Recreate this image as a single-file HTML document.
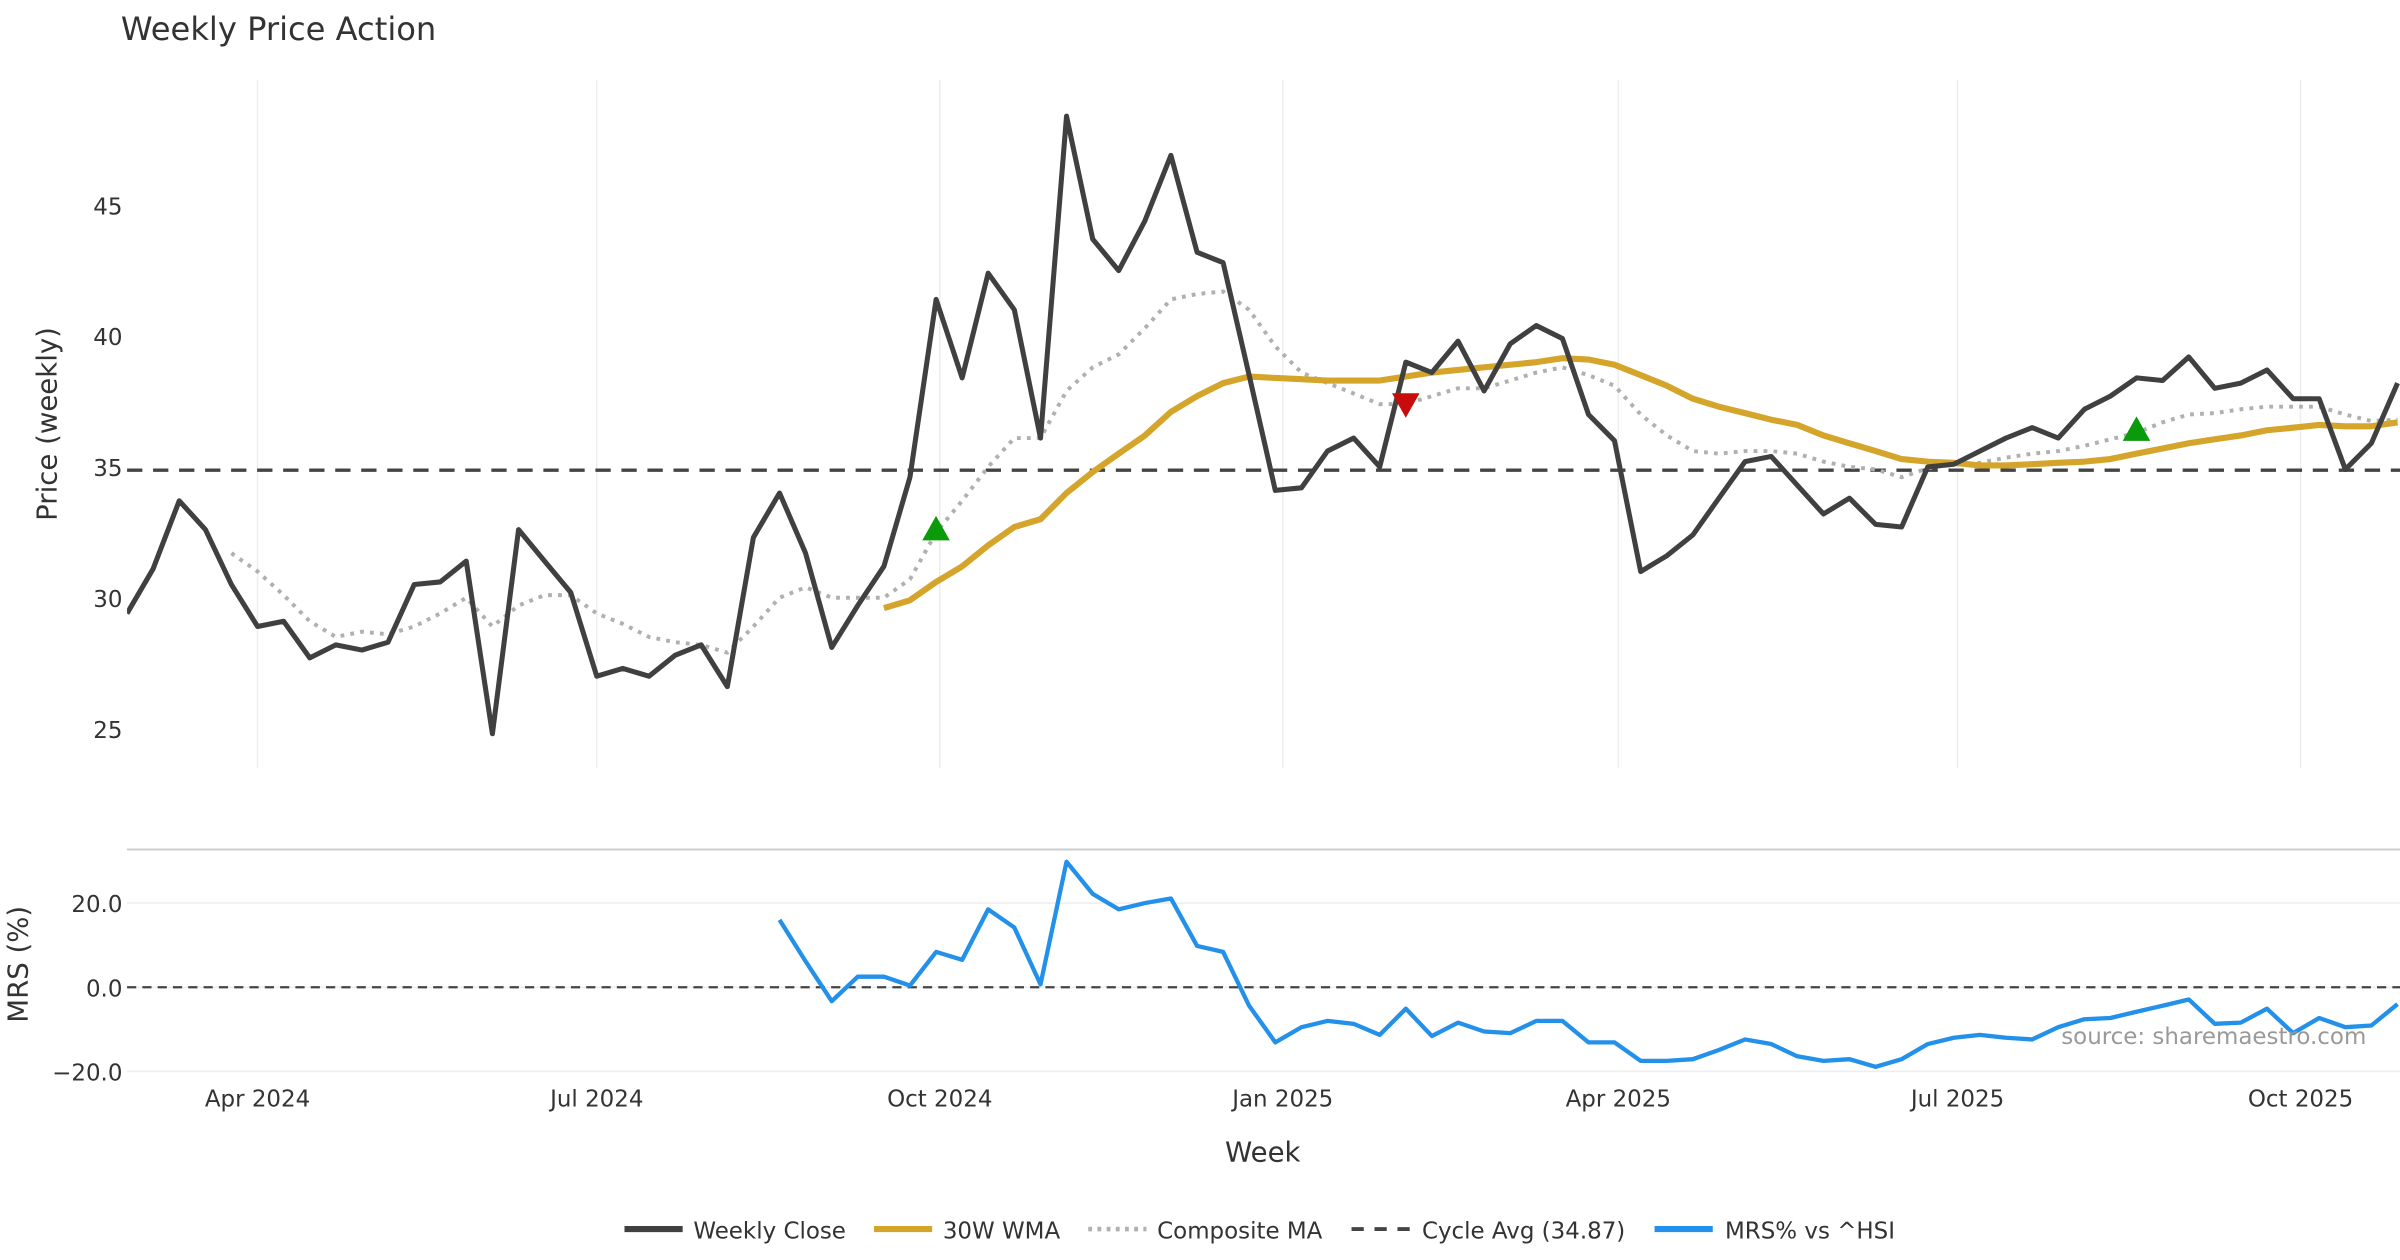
<!DOCTYPE html>
<html><head><meta charset="utf-8"><style>
html,body{margin:0;padding:0;background:#fff;}
svg{display:block;font-family:"DejaVu Sans","Liberation Sans",sans-serif;}
</style></head><body>
<svg id="chart" width="2400" height="1260" viewBox="0 0 1568 823.2" xmlns="http://www.w3.org/2000/svg">
<text x="79" y="26" font-size="21" fill="#333">Weekly Price Action</text>
<g id="grid"></g>
<g id="series"></g>
<g id="axes"></g>
<text transform="translate(37,277) rotate(-90)" text-anchor="middle" font-size="18" fill="#333">Price (weekly)</text>
<text transform="translate(18,630) rotate(-90)" text-anchor="middle" font-size="18" fill="#333">MRS (%)</text>
<text x="825" y="759" text-anchor="middle" font-size="18" fill="#333">Week</text>
<text x="1546" y="682" text-anchor="end" font-size="15" fill="#999">source: sharemaestro.com</text>
<g id="legend"></g>
</svg>
<script>
const startDate = "2024-02-26";
const closeVals = [29.4,31.1,33.7,32.6,30.5,28.9,29.1,27.7,28.2,28.0,28.3,30.5,30.6,31.4,24.8,32.6,31.4,30.2,27.0,27.3,27.0,27.8,28.2,26.6,32.3,34.0,31.7,28.1,29.7,31.2,34.6,41.4,38.4,42.4,41.0,36.1,48.4,43.7,42.5,44.4,46.9,43.2,42.8,38.5,34.1,34.2,35.6,36.1,35.0,39.0,38.6,39.8,37.9,39.7,40.4,39.9,37.0,36.0,31.0,31.6,32.4,33.8,35.2,35.4,34.3,33.2,33.8,32.8,32.7,35.0,35.1,35.6,36.1,36.5,36.1,37.2,37.7,38.4,38.3,39.2,38.0,38.2,38.7,37.6,37.6,34.9,35.9,38.2];
const wmaStart = 29;
const wmaVals = [29.6,29.9,30.6,31.2,32.0,32.7,33.0,34.0,34.8,35.5,36.2,37.1,37.7,38.2,38.45,38.4,38.35,38.3,38.3,38.3,38.45,38.6,38.7,38.8,38.9,39.0,39.15,39.1,38.9,38.5,38.1,37.6,37.3,37.05,36.8,36.6,36.2,35.9,35.6,35.3,35.2,35.15,35.05,35.05,35.1,35.15,35.2,35.3,35.5,35.7,35.9,36.05,36.2,36.4,36.5,36.6,36.55,36.55,36.7];
const compStart = 4;
const compVals = [31.7,31.0,30.1,29.1,28.5,28.7,28.6,28.9,29.4,30.0,28.9,29.7,30.1,30.1,29.4,29.0,28.5,28.3,28.2,27.9,28.9,30.0,30.4,30.0,30.0,30.0,30.7,32.5,33.7,35.0,36.1,36.1,37.9,38.8,39.3,40.3,41.4,41.6,41.7,41.0,39.6,38.6,38.2,37.8,37.4,37.4,37.7,38.0,38.0,38.3,38.6,38.8,38.5,38.1,37.0,36.2,35.6,35.5,35.6,35.6,35.5,35.2,35.0,34.9,34.6,34.95,35.1,35.15,35.35,35.5,35.6,35.8,36.05,36.3,36.7,37.0,37.05,37.2,37.3,37.3,37.3,37.0,36.75,36.8];
const mrsStart = 25;
const mrsVals = [16.0,6.2,-3.3,2.5,2.5,0.4,8.4,6.5,18.5,14.2,0.7,29.8,22.2,18.5,20.0,21.1,9.8,8.4,-4.4,-13.1,-9.5,-8.0,-8.7,-11.3,-5.1,-11.6,-8.4,-10.5,-10.9,-8.0,-8.0,-13.1,-13.1,-17.5,-17.5,-17.1,-14.9,-12.4,-13.5,-16.4,-17.5,-17.1,-18.9,-17.1,-13.5,-12.0,-11.3,-12.0,-12.4,-9.5,-7.6,-7.3,-5.8,-4.4,-2.9,-8.7,-8.4,-5.1,-10.9,-7.3,-9.5,-9.1,-4.0];
const cycleAvg = 34.87;
const buyIdx = [31, 77];
const buyVals = [32.6, 36.4];
const sellIdx = [49];
const sellVals = [37.4];
const priceTicks = [25,30,35,40,45];
const mrsTicks = [-20,0,20];
const mrsTickLabels = ["\u221220.0","0.0","20.0"];
const dateTicks = ["2024-04-01","2024-07-01","2024-10-01","2025-01-01","2025-04-01","2025-07-01","2025-10-01"];
const dateTickLabels = ["Apr 2024","Jul 2024","Oct 2024","Jan 2025","Apr 2025","Jul 2025","Oct 2025"];

const NS="http://www.w3.org/2000/svg";
const t0=Date.parse(startDate+"T00:00:00Z");
function xDate(s){return 83+(Date.parse(s+"T00:00:00Z")-t0)/86400000*17.05/7;}
function xIdx(i){return 83+i*17.05;}
function yP(v){return 305-(v-35)*17.1;}
function yM(v){return 645-v*2.75;}
function mk(tag,attrs,parent){const e=document.createElementNS(NS,tag);for(const k in attrs)e.setAttribute(k,attrs[k]);parent.appendChild(e);return e;}
const grid=document.getElementById('grid'),ser=document.getElementById('series'),ax=document.getElementById('axes'),leg=document.getElementById('legend');
const svg=document.getElementById('chart');
const defs=mk('defs',{},svg);
const cp=mk('clipPath',{id:'clip'},defs);mk('rect',{x:83,y:40,width:1485,height:700},cp);
ser.setAttribute('clip-path','url(#clip)');

dateTicks.forEach((d,k)=>{
  const x=xDate(d);
  const g=mk('line',{x1:x,x2:x,y1:52,y2:502,stroke:'#eeeeee','stroke-width':1},grid);
  
  
  const t=mk('text',{x:x,y:723,'text-anchor':'middle','font-size':15,fill:'#333'},ax);
  t.textContent=dateTickLabels[k];
  
  
});
priceTicks.forEach(v=>{
  const t=mk('text',{x:80,y:yP(v)+6,'text-anchor':'end','font-size':15,fill:'#333'},ax);
  t.textContent=v;
  
  
});
const top2=mk('line',{x1:83,x2:1568,y1:555,y2:555,stroke:'#cccccc','stroke-width':1.3},grid);


mrsTicks.forEach((v,k)=>{
  const g=mk('line',{x1:83,x2:1568,y1:yM(v),y2:yM(v),stroke:'#eeeeee','stroke-width':1},grid);
  
  
  const t=mk('text',{x:80,y:yM(v)+6,'text-anchor':'end','font-size':15,fill:'#333'},ax);
  t.textContent=mrsTickLabels[k];
  
  
});
function poly(vals,start,yf,attrs,name){
  const pts=vals.map((v,i)=>xIdx(i+start).toFixed(1)+','+yf(v).toFixed(1)).join(' ');
  const p=mk('polyline',Object.assign({points:pts,fill:'none','stroke-linejoin':'round'},attrs),ser);
  
  
}
const cy=mk('line',{x1:83,x2:1568,y1:yP(cycleAvg),y2:yP(cycleAvg),stroke:'#444','stroke-width':2.2,'stroke-dasharray':'10,7'},ser);


const z=mk('line',{x1:83,x2:1568,y1:yM(0),y2:yM(0),stroke:'#444','stroke-width':1.4,'stroke-dasharray':'6,4'},ser);


poly(compVals,compStart,yP,{stroke:'#b0b0b0','stroke-width':2.6,'stroke-dasharray':'2.5,4'},'composite-ma-line');
poly(wmaVals,wmaStart,yP,{stroke:'#d4a52a','stroke-width':4},'wma-30w-line');
poly(closeVals,0,yP,{stroke:'#404040','stroke-width':3.3},'weekly-close-line');
poly(mrsVals,mrsStart,yM,{stroke:'#2390ea','stroke-width':2.8},'mrs-line');
buyIdx.forEach((i,k)=>{
  const x=xIdx(i),y=yP(buyVals[k]);
  const m=mk('polygon',{points:`${x-9},${y+7} ${x+9},${y+7} ${x},${y-9}`,fill:'#0a9a0a'},ser);
  
  
});
sellIdx.forEach((i,k)=>{
  const x=xIdx(i),y=yP(sellVals[k]);
  const m=mk('polygon',{points:`${x-9},${y-7} ${x+9},${y-7} ${x},${y+9}`,fill:'#c80c0c'},ser);
  
  
});
const legItems=[
  {x:408,tx:453,label:'Weekly Close',st:{stroke:'#404040','stroke-width':4}},
  {x:571,tx:616,label:'30W WMA',st:{stroke:'#d4a52a','stroke-width':4}},
  {x:711,tx:756,label:'Composite MA',st:{stroke:'#b0b0b0','stroke-width':3,'stroke-dasharray':'2.5,3.5'}},
  {x:883,tx:929,label:'Cycle Avg (34.87)',st:{stroke:'#444','stroke-width':2.5,'stroke-dasharray':'8,7'}},
  {x:1081,tx:1127,label:'MRS% vs ^HSI',st:{stroke:'#2390ea','stroke-width':4}}
];
legItems.forEach(it=>{
  const g=mk('g',{},leg);
  
  
  mk('line',Object.assign({x1:it.x,x2:it.x+38,y1:803,y2:803},it.st),g);
  const t=mk('text',{x:it.tx,y:809,'font-size':15,fill:'#333'},g);
  t.textContent=it.label;
});
</script>
</body></html>
